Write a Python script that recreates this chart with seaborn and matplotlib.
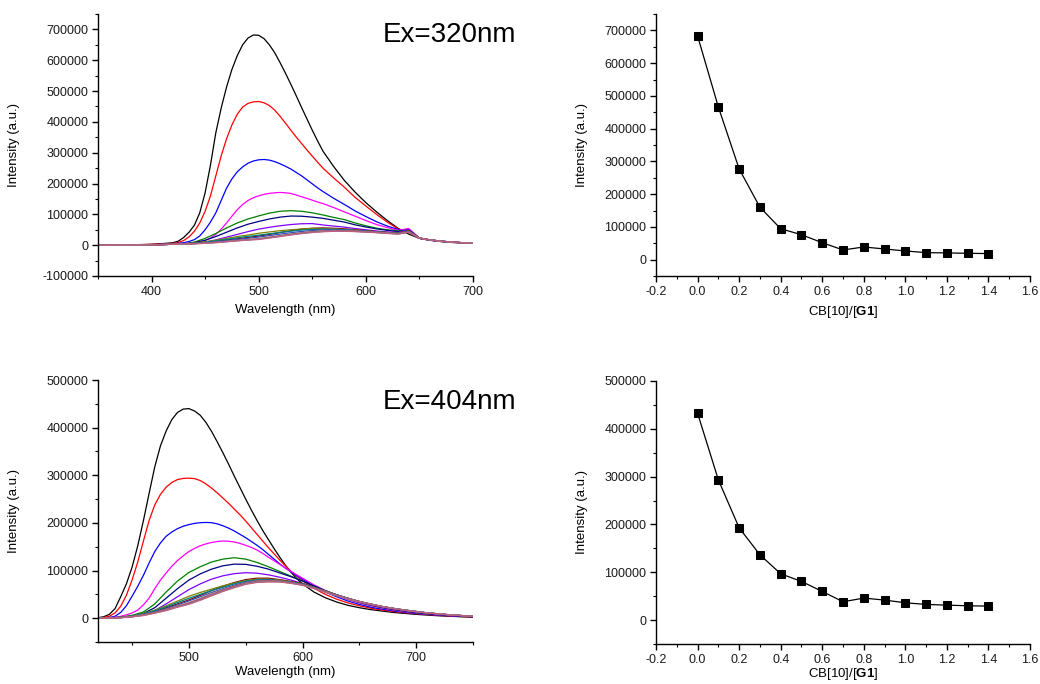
import numpy as np
import pandas as pd
import matplotlib
matplotlib.use("Agg")
import matplotlib.pyplot as plt
import seaborn as sns
from matplotlib.ticker import MultipleLocator, FuncFormatter

# ---- data ----
ratio = [0.0, 0.1, 0.2, 0.3, 0.4, 0.5, 0.6, 0.7, 0.8, 0.9, 1.0, 1.1, 1.2, 1.3, 1.4]

# titration (intensity at ~500 nm)
int_320 = [683000, 466000, 277000, 160000, 94300, 76000, 51700, 29500,
           38600, 32500, 26400, 21400, 20400, 19400, 18400]
int_404 = [432500, 293200, 192900, 136500, 96800, 80800, 59900, 38300,
           46000, 41800, 36200, 32700, 31300, 29900, 29200]

# spectra, Ex = 320 nm
# the four big curves are read every 5 nm around the band, the others every 10 nm
wl_320_fine = list(range(350, 421, 10)) + list(range(425, 561, 5)) + list(range(570, 701, 10))
wl_320 = list(range(350, 701, 10))
spec_320_fine = [
    [0, 0, 500, 1000, 2000, 3000, 5000, 8000,
     13000, 25000, 42000, 65000, 105000, 170000, 260000, 365000, 445000, 513000, 570000, 615000, 650000, 672000, 682000, 681000,
     670000, 650000, 624000, 592000, 558000, 522000, 485000, 447000, 410000, 373000, 338000, 305000,
     255000, 210000, 172000, 138000, 108000, 80000, 55000, 36000, 22000, 16000, 12000, 9000, 8000, 7000],
    [0, 0, 500, 1000, 1500, 2500, 4000, 6000,
     9000, 15000, 27000, 45000, 72000, 110000, 160000, 225000, 290000, 345000, 390000, 425000, 448000, 460000, 465000, 466000,
     462000, 453000, 438000, 418000, 396000, 373000, 351000, 330000, 309000, 289000, 269000, 250000,
     218000, 188000, 155000, 127000, 100000, 75000, 53000, 42000, 22000, 16000, 12000, 9000, 8000, 7000],
    [0, 0, 300, 600, 1000, 1500, 2500, 4000,
     6000, 8000, 12000, 18000, 30000, 50000, 75000, 105000, 145000, 185000, 215000, 238000, 254000, 266000, 273000, 277000,
     278000, 276000, 271000, 264000, 256000, 247000, 236000, 225000, 212000, 199000, 186000, 174000,
     152000, 132000, 111000, 93000, 76000, 62000, 51000, 46000, 22000, 16000, 12000, 9000, 8000, 7000],
    [0, 0, 300, 500, 800, 1200, 2000, 3000,
     4000, 5000, 6500, 8000, 11000, 15000, 23000, 35000, 52000, 72000, 94000, 115000, 132000, 145000, 154000, 160000,
     165000, 168000, 170000, 171000, 170000, 168000, 163000, 157000, 152000, 146000, 140000, 135000,
     122000, 108000, 94000, 80000, 67000, 57000, 48000, 54000, 23000, 17000, 13000, 10000, 8000, 7000],
]
spec_320 = [
    [0, 0, 300, 500, 800, 1200, 2000, 3000, 4000, 10000, 22000, 38000, 56000, 72000, 85000, 95000, 104000, 110000, 112000, 110000, 105000, 98000, 90000, 83000, 72000, 63000, 55000, 50000, 46000, 50000, 23000, 17000, 13000, 10000, 8000, 7000],
    [0, 0, 300, 500, 800, 1200, 2000, 3000, 3500, 8000, 16000, 28000, 42000, 56000, 68000, 77000, 85000, 91000, 94500, 94000, 91000, 87000, 81000, 75000, 66000, 59000, 53000, 48000, 44000, 49000, 23000, 17000, 13000, 10000, 8000, 7000],
    [0, 0, 300, 500, 800, 1200, 2000, 3000, 3000, 5000, 10000, 17000, 26000, 35000, 44000, 52000, 58000, 63000, 67000, 69500, 70000, 65500, 62000, 58500, 54000, 50000, 46000, 43000, 41000, 52000, 23000, 17000, 13000, 10000, 8000, 7000],
    [0, 0, 300, 500, 800, 1200, 2000, 3000, 4000, 6000, 9000, 13000, 17000, 21000, 25000, 29500, 35000, 41000, 47000, 52000, 55000, 56000, 55000, 53000, 50000, 47000, 44000, 41000, 39000, 47000, 23000, 17000, 13000, 10000, 8000, 7000],
    [0, 0, 300, 500, 800, 1200, 2000, 3000, 4500, 7000, 11000, 16000, 22000, 28000, 33000, 38600, 43000, 47000, 50000, 52500, 54000, 54000, 53000, 51000, 49000, 46000, 43500, 41000, 39000, 46000, 23000, 17000, 13000, 10000, 8000, 7000],
    [0, 0, 300, 500, 800, 1200, 2000, 3000, 4000, 6000, 9500, 14000, 19000, 24000, 28500, 32500, 37000, 41500, 45500, 49000, 51000, 52000, 51500, 50000, 48000, 45500, 43000, 40500, 38500, 45000, 23000, 17000, 13000, 10000, 8000, 7000],
    [0, 0, 300, 500, 800, 1200, 2000, 3000, 3500, 5500, 8000, 11000, 15000, 18500, 22500, 26400, 31000, 36000, 40500, 44500, 47500, 49500, 50000, 49000, 47000, 45000, 42500, 40000, 38000, 44000, 23000, 17000, 13000, 10000, 8000, 7000],
    [0, 0, 300, 500, 800, 1200, 2000, 3000, 3500, 5000, 7000, 9500, 12500, 15500, 18500, 21400, 26000, 31000, 36000, 40500, 44000, 46500, 48000, 47500, 46000, 44000, 42000, 39500, 37500, 43000, 23000, 17000, 13000, 10000, 8000, 7000],
    [0, 0, 300, 500, 800, 1200, 2000, 3000, 3500, 5000, 7000, 9000, 12000, 15000, 17500, 20400, 25000, 30000, 35000, 39500, 43000, 45500, 47000, 46500, 45000, 43500, 41500, 39000, 37000, 42500, 23000, 17000, 13000, 10000, 8000, 7000],
    [0, 0, 300, 500, 800, 1200, 2000, 3000, 3500, 4500, 6500, 8500, 11500, 14500, 17000, 19400, 24000, 29000, 34000, 38500, 42000, 44500, 46000, 45500, 44500, 43000, 41000, 38500, 36500, 42000, 23000, 17000, 13000, 10000, 8000, 7000],
    [0, 0, 300, 500, 800, 1200, 2000, 3000, 3500, 4500, 6000, 8000, 11000, 14000, 16500, 18400, 23000, 28000, 33000, 37500, 41000, 43500, 45000, 45000, 44000, 42500, 40500, 38000, 36000, 41500, 23000, 17000, 13000, 10000, 8000, 7000],
]

# spectra, Ex = 404 nm
wl_404_fine = list(range(420, 601, 5)) + list(range(610, 751, 10))
wl_404 = list(range(420, 751, 10))
spec_404_fine = [
    [1000, 3000, 8000, 20000, 45000, 72000, 107000, 152000, 205000, 262000, 318000, 362000, 393000, 417000, 432000, 439000, 440000,
     435000, 426000, 411000, 392000, 370000, 347000, 323000, 298000, 274000, 250000, 227000, 205000, 184000, 165000, 146000, 128000, 111000, 96000, 83000, 72000,
     55000, 43000, 34000, 27000, 22000, 18000, 15000, 12000, 10000, 8000, 6500, 5000, 4000, 3000, 2000],
    [500, 1500, 4000, 11000, 25000, 48000, 80000, 118000, 162000, 205000, 238000, 260000, 275000, 285000, 291000, 293500, 294000,
     293000, 289000, 282000, 273000, 263000, 252000, 241000, 229000, 217000, 204000, 190000, 176000, 162000, 148000, 135000, 122000, 110000, 98000, 88000, 79000,
     63000, 50000, 40000, 32000, 26000, 21000, 17000, 14000, 11500, 9500, 7500, 6000, 4500, 3500, 2500],
    [0, 500, 1500, 4000, 12000, 26000, 46000, 67000, 90000, 116000, 140000, 158000, 172000, 181000, 188000, 193000, 196500,
     199000, 200500, 201000, 200500, 198000, 194000, 189000, 183000, 176000, 169000, 161000, 153000, 144000, 134000, 124000, 114000, 105000, 97000, 89000, 82000,
     67000, 55000, 45000, 36000, 29000, 23000, 19000, 15500, 12500, 10000, 8000, 6500, 5000, 4000, 3000],
    [0, 300, 1000, 2000, 4000, 7000, 11000, 17000, 28000, 42000, 62000, 80000, 95000, 109000, 121000, 131000, 140000,
     146500, 152000, 156000, 159000, 161000, 162000, 161500, 160000, 157000, 153000, 148500, 143000, 136000, 128000, 120500, 113000, 105500, 98000, 91000, 84000,
     70000, 58000, 48000, 39000, 32000, 26000, 21000, 17000, 13500, 11000, 8500, 7000, 5500, 4500, 3500],
]
spec_404 = [
    [0, 500, 2000, 6000, 13000, 30000, 55000, 78000, 96000, 108000, 118000, 124000, 127000, 124000, 117000, 108000, 98000, 88000, 78000, 67000, 57000, 48000, 40000, 33000, 27000, 22000, 18000, 14500, 11500, 9000, 7500, 6000, 4500, 3500],
    [0, 500, 1500, 4000, 10000, 22000, 42000, 62000, 80000, 93000, 103000, 110000, 113500, 113000, 109000, 103000, 95000, 87000, 78000, 68000, 58000, 49000, 41000, 34000, 28000, 23000, 18500, 15000, 12000, 9500, 7500, 6000, 4500, 3500],
    [0, 300, 1000, 3000, 7000, 16000, 30000, 45000, 60000, 72000, 82000, 89000, 93500, 95500, 94500, 91000, 86000, 80000, 73000, 65000, 57000, 49000, 41000, 34000, 28000, 23000, 19000, 15500, 12500, 10000, 8000, 6000, 5000, 3500],
    [0, 300, 1500, 4000, 8000, 14000, 22000, 30000, 38300, 48000, 58000, 67000, 75000, 81000, 84000, 84000, 81000, 77000, 73000, 65000, 57000, 49000, 42000, 35000, 29500, 24500, 20500, 17000, 14000, 11000, 9000, 7000, 5500, 4000],
    [0, 300, 2000, 5000, 10000, 17000, 26000, 36000, 46000, 54000, 61000, 68000, 74000, 79000, 82000, 82000, 80000, 76000, 72000, 65000, 57000, 49000, 42000, 35000, 29500, 24500, 20500, 17000, 14000, 11000, 9000, 7000, 5500, 4000],
    [0, 300, 1800, 4500, 9000, 15500, 24000, 33000, 41800, 50000, 58000, 65000, 72000, 77500, 80500, 81000, 79000, 75500, 71500, 64500, 56500, 48500, 41500, 35000, 29500, 24500, 20500, 17000, 14000, 11000, 9000, 7000, 5500, 4000],
    [0, 300, 1500, 3800, 7500, 13000, 20000, 28000, 36200, 45000, 54000, 62000, 69500, 75500, 79000, 80000, 78500, 75000, 71000, 64000, 56000, 48500, 41500, 35000, 29500, 24500, 20500, 17000, 14000, 11000, 9000, 7000, 5500, 4000],
    [0, 300, 1300, 3500, 7000, 12000, 18500, 25500, 32700, 41500, 51000, 60000, 67500, 74000, 78000, 79000, 78000, 74500, 70500, 63500, 56000, 48000, 41000, 35000, 29500, 24500, 20500, 17000, 14000, 11000, 9000, 7000, 5500, 4000],
    [0, 300, 1200, 3300, 6500, 11500, 17500, 24500, 31300, 40000, 49500, 58500, 66500, 73000, 77000, 78000, 77000, 74000, 70000, 63000, 55500, 48000, 41000, 35000, 29500, 24500, 20500, 17000, 14000, 11000, 9000, 7000, 5500, 4000],
    [0, 300, 1100, 3000, 6000, 11000, 16500, 23500, 29900, 38500, 48000, 57000, 65000, 72000, 76000, 77000, 76500, 73500, 69500, 62500, 55000, 47500, 40500, 34500, 29000, 24500, 20500, 17000, 14000, 11000, 9000, 7000, 5500, 4000],
    [0, 300, 1000, 2800, 5500, 10500, 16000, 23000, 29200, 37500, 47000, 56000, 64000, 71000, 75000, 76000, 76000, 73000, 69000, 62000, 54500, 47000, 40000, 34000, 29000, 24000, 20000, 16500, 13500, 11000, 9000, 7000, 5500, 4000],
]

line_colors = ['#000000', '#FF0000', '#0000FF', '#FF00FF', '#008000', '#000080',
               '#8000FF', '#800000', '#808000', '#008080', '#3050C0', '#C08040',
               '#A040A0', '#808080', '#C06080']


def spectra_frame(wl_fine, fine, wl, coarse):
    rows = []
    curves = [(wl_fine, v) for v in fine] + [(wl, v) for v in coarse]
    for r, (x, vals) in zip(ratio, curves):
        rows.append(pd.DataFrame({'wavelength': x, 'intensity': vals, 'ratio': f'{r:.1f}'}))
    return pd.concat(rows, ignore_index=True)


df_320 = spectra_frame(wl_320_fine, spec_320_fine, wl_320, spec_320)
df_404 = spectra_frame(wl_404_fine, spec_404_fine, wl_404, spec_404)
df_tit = pd.DataFrame({'ratio': ratio, 'i320': int_320, 'i404': int_404})

sns.set_style('ticks')
plt.rcParams['font.family'] = ['Liberation Sans', 'DejaVu Sans']
plt.rcParams['axes.unicode_minus'] = False
plt.rcParams['mathtext.fontset'] = 'custom'
plt.rcParams['mathtext.rm'] = 'Liberation Sans'
plt.rcParams['mathtext.bf'] = 'Liberation Sans:bold'
plt.rcParams['text.color'] = 'black'
plt.rcParams['axes.labelcolor'] = 'black'

fig = plt.figure(figsize=(10.4, 6.84), dpi=100)
ax_tl = fig.add_axes([0.0942, 0.5965, 0.3606, 0.383])
ax_bl = fig.add_axes([0.0942, 0.0614, 0.3606, 0.383])
ax_tr = fig.add_axes([0.6308, 0.5965, 0.3596, 0.383])
ax_br = fig.add_axes([0.6308, 0.0585, 0.3596, 0.3845])

hue_order = [f'{r:.1f}' for r in ratio]
sns.lineplot(data=df_320, x='wavelength', y='intensity', hue='ratio', hue_order=hue_order,
             palette=line_colors, estimator=None, sort=False, linewidth=0.9,
             legend=False, ax=ax_tl)
sns.lineplot(data=df_404, x='wavelength', y='intensity', hue='ratio', hue_order=hue_order,
             palette=line_colors, estimator=None, sort=False, linewidth=0.9,
             legend=False, ax=ax_bl)
sns.lineplot(data=df_tit, x='ratio', y='i320', color='black', marker='s', markersize=6,
             markeredgecolor='black', linewidth=0.9, ax=ax_tr)
sns.lineplot(data=df_tit, x='ratio', y='i404', color='black', marker='s', markersize=6,
             markeredgecolor='black', linewidth=0.9, ax=ax_br)

ax_tl.set_xlim(350, 700)
ax_tl.set_ylim(-100000, 750000)
ax_bl.set_xlim(420, 750)
ax_bl.set_ylim(-50000, 500000)
ax_tr.set_xlim(-0.2, 1.6)
ax_tr.set_ylim(-50000, 750000)
ax_br.set_xlim(-0.2, 1.6)
ax_br.set_ylim(-50000, 500000)

ax_tl.xaxis.set_major_locator(MultipleLocator(100))
ax_tl.xaxis.set_minor_locator(MultipleLocator(50))
ax_bl.xaxis.set_major_locator(MultipleLocator(100))
ax_bl.xaxis.set_minor_locator(MultipleLocator(50))
for ax in (ax_tr, ax_br):
    ax.xaxis.set_major_locator(MultipleLocator(0.2))
    ax.xaxis.set_minor_locator(MultipleLocator(0.1))
    ax.xaxis.set_major_formatter(FuncFormatter(lambda v, p: f'{v:.1f}'))

ax_tl.set_yticks(np.arange(-100000, 700001, 100000))
ax_tr.set_yticks(np.arange(0, 700001, 100000))
ax_bl.set_yticks(np.arange(0, 500001, 100000))
ax_br.set_yticks(np.arange(0, 500001, 100000))

for ax in (ax_tl, ax_bl, ax_tr, ax_br):
    ax.yaxis.set_minor_locator(MultipleLocator(50000))
    ax.yaxis.set_major_formatter(FuncFormatter(lambda v, p: f'{int(round(v))}'))
    ax.tick_params(which='major', direction='out', length=4, width=1, labelsize=9,
                   colors='black', labelcolor='#1a1a1a', pad=3)
    ax.tick_params(which='minor', direction='out', length=2.5, width=0.8, colors='black')
    for s in ('left', 'bottom'):
        ax.spines[s].set_linewidth(1.0)
        ax.spines[s].set_color('black')
    sns.despine(ax=ax)
    ax.set_ylabel('Intensity (a.u.)', fontsize=9.5)

ax_tl.set_xlabel('Wavelength (nm)', fontsize=9.5)
ax_bl.set_xlabel('Wavelength (nm)', fontsize=9.5)
ax_tr.set_xlabel(r'CB[10]/[$\mathbf{G1}$]', fontsize=9.5)
ax_br.set_xlabel(r'CB[10]/[$\mathbf{G1}$]', fontsize=9.5)

ax_tl.yaxis.set_label_coords(-0.208, 0.5)
ax_bl.yaxis.set_label_coords(-0.208, 0.5)
ax_tr.yaxis.set_label_coords(-0.182, 0.5)
ax_br.yaxis.set_label_coords(-0.182, 0.5)
ax_tl.xaxis.set_label_coords(0.5, -0.105)
ax_tr.xaxis.set_label_coords(0.5, -0.105)
ax_bl.xaxis.set_label_coords(0.5, -0.092)
ax_br.xaxis.set_label_coords(0.5, -0.085)

ax_tl.text(0.76, 0.893, 'Ex=320nm', transform=ax_tl.transAxes, fontsize=20,
           va='baseline', ha='left', color='black')
ax_bl.text(0.76, 0.889, 'Ex=404nm', transform=ax_bl.transAxes, fontsize=20,
           va='baseline', ha='left', color='black')

fig.savefig('out.png', dpi=100)
